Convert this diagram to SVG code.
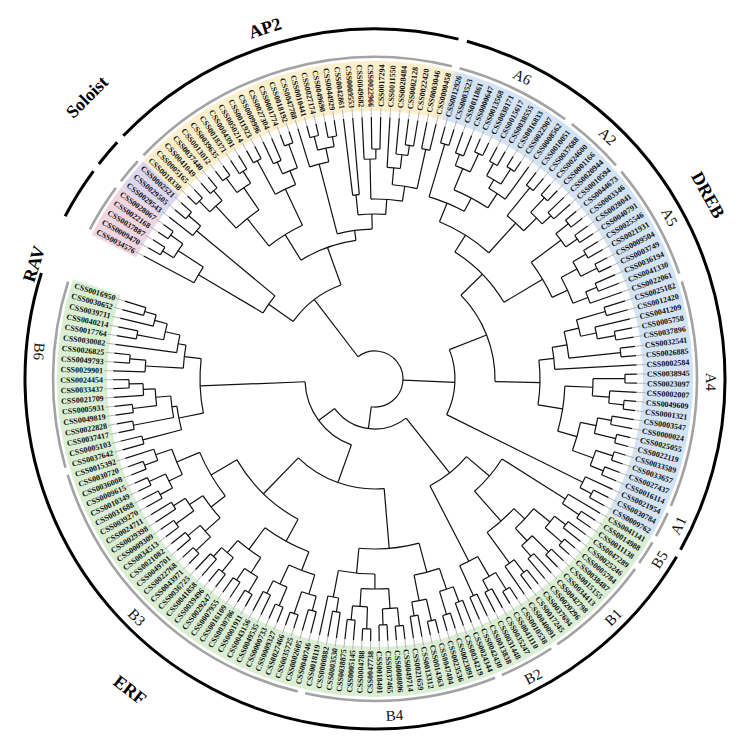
<svg xmlns="http://www.w3.org/2000/svg" width="744" height="750" viewBox="0 0 744 750">
<style>
.tr{fill:none;stroke:#111;stroke-width:1.2}
.lv line{stroke:#a8a8a8;stroke-width:0.8}
.lv text{font-family:"Liberation Serif","Times New Roman",serif;font-weight:bold;font-size:8px;fill:#111}
.lv .f{text-anchor:end}
.bd{fill:none;stroke-width:50}
.sg{fill:none;stroke:#a3a3a3;stroke-width:2.6}
.fm{fill:none;stroke:#000;stroke-width:3}
.sl{font-family:"Liberation Serif","Times New Roman",serif;font-size:15px;text-anchor:middle;fill:#111}
.fl{font-family:"Liberation Serif","Times New Roman",serif;font-size:18px;font-weight:bold;text-anchor:middle;fill:#000}
</style>
<rect width="744" height="750" fill="#fff"/>
<g transform="translate(375,379)">
<g id="bands">
<circle class="bd" pathLength="360" r="293" stroke="#f0d6e1" stroke-dasharray="10.18 400" transform="rotate(207)"/>
<circle class="bd" pathLength="360" r="293" stroke="#dcd7ee" stroke-dasharray="6.12 400" transform="rotate(217.18)"/>
<circle class="bd" pathLength="360" r="293" stroke="#fbefcc" stroke-dasharray="61.2 400" transform="rotate(223.3)"/>
<circle class="bd" pathLength="360" r="293" stroke="#d3e3f4" stroke-dasharray="105.36 400" transform="rotate(284.5)"/>
<circle class="bd" pathLength="360" r="293" stroke="#daeed4" stroke-dasharray="168.41 400" transform="rotate(389.86)"/>
</g>
<g id="tree" class="tr">
<circle pathLength="360" r="248" stroke-dasharray="2.04 400" transform="rotate(210.04)"/>
<circle pathLength="360" r="250" stroke-dasharray="2.04 400" transform="rotate(214.12)"/>
<circle pathLength="360" r="235" stroke-dasharray="4.08 400" transform="rotate(211.06)"/>
<circle pathLength="360" r="205" stroke-dasharray="5.1 400" transform="rotate(208)"/>
<circle pathLength="360" r="248" stroke-dasharray="2.04 400" transform="rotate(220.24)"/>
<circle pathLength="360" r="232" stroke-dasharray="3.06 400" transform="rotate(218.2)"/>
<circle pathLength="360" r="130" stroke-dasharray="9.18 400" transform="rotate(210.55)"/>
<circle pathLength="360" r="250" stroke-dasharray="2.04 400" transform="rotate(224.32)"/>
<circle pathLength="360" r="248" stroke-dasharray="2.04 400" transform="rotate(228.4)"/>
<circle pathLength="360" r="235" stroke-dasharray="4.08 400" transform="rotate(225.34)"/>
<circle pathLength="360" r="250" stroke-dasharray="2.04 400" transform="rotate(232.48)"/>
<circle pathLength="360" r="246" stroke-dasharray="2.04 400" transform="rotate(236.56)"/>
<circle pathLength="360" r="232" stroke-dasharray="4.08 400" transform="rotate(233.5)"/>
<circle pathLength="360" r="205" stroke-dasharray="8.16 400" transform="rotate(227.38)"/>
<circle pathLength="360" r="248" stroke-dasharray="2.04 400" transform="rotate(240.64)"/>
<circle pathLength="360" r="238" stroke-dasharray="2.04 400" transform="rotate(244.72)"/>
<circle pathLength="360" r="250" stroke-dasharray="2.04 400" transform="rotate(248.8)"/>
<circle pathLength="360" r="225" stroke-dasharray="4.08 400" transform="rotate(245.74)"/>
<circle pathLength="360" r="210" stroke-dasharray="6.12 400" transform="rotate(241.66)"/>
<circle pathLength="360" r="170" stroke-dasharray="13.26 400" transform="rotate(231.46)"/>
<circle pathLength="360" r="250" stroke-dasharray="2.04 400" transform="rotate(254.92)"/>
<circle pathLength="360" r="246" stroke-dasharray="2.04 400" transform="rotate(259)"/>
<circle pathLength="360" r="236" stroke-dasharray="4.08 400" transform="rotate(255.94)"/>
<circle pathLength="360" r="222" stroke-dasharray="5.1 400" transform="rotate(252.88)"/>
<circle pathLength="360" r="185" stroke-dasharray="2.04 400" transform="rotate(263.08)"/>
<circle pathLength="360" r="230" stroke-dasharray="2.04 400" transform="rotate(269.2)"/>
<circle pathLength="360" r="220" stroke-dasharray="3.06 400" transform="rotate(267.16)"/>
<circle pathLength="360" r="236" stroke-dasharray="2.04 400" transform="rotate(277.36)"/>
<circle pathLength="360" r="226" stroke-dasharray="3.06 400" transform="rotate(275.32)"/>
<circle pathLength="360" r="212" stroke-dasharray="3.57 400" transform="rotate(273.28)"/>
<circle pathLength="360" r="235" stroke-dasharray="2.04 400" transform="rotate(281.44)"/>
<circle pathLength="360" r="195" stroke-dasharray="7.39 400" transform="rotate(275.07)"/>
<circle pathLength="360" r="180" stroke-dasharray="10.08 400" transform="rotate(268.69)"/>
<circle pathLength="360" r="165" stroke-dasharray="9.63 400" transform="rotate(264.1)"/>
<circle pathLength="360" r="150" stroke-dasharray="13.49 400" transform="rotate(255.43)"/>
<circle pathLength="360" r="140" stroke-dasharray="24.09 400" transform="rotate(238.09)"/>
<circle pathLength="360" r="100" stroke-dasharray="35 400" transform="rotate(215.14)"/>
<circle pathLength="360" r="245" stroke-dasharray="2.04 400" transform="rotate(285.52)"/>
<circle pathLength="360" r="240" stroke-dasharray="2.04 400" transform="rotate(289.6)"/>
<circle pathLength="360" r="248" stroke-dasharray="2.04 400" transform="rotate(293.68)"/>
<circle pathLength="360" r="228" stroke-dasharray="4.08 400" transform="rotate(290.62)"/>
<circle pathLength="360" r="246" stroke-dasharray="2.04 400" transform="rotate(297.76)"/>
<circle pathLength="360" r="250" stroke-dasharray="2.04 400" transform="rotate(301.84)"/>
<circle pathLength="360" r="232" stroke-dasharray="4.08 400" transform="rotate(298.78)"/>
<circle pathLength="360" r="222" stroke-dasharray="5.1 400" transform="rotate(300.82)"/>
<circle pathLength="360" r="205" stroke-dasharray="10.71 400" transform="rotate(292.66)"/>
<circle pathLength="360" r="190" stroke-dasharray="11.48 400" transform="rotate(286.54)"/>
<circle pathLength="360" r="246" stroke-dasharray="2.04 400" transform="rotate(307.96)"/>
<circle pathLength="360" r="248" stroke-dasharray="2.04 400" transform="rotate(312.04)"/>
<circle pathLength="360" r="240" stroke-dasharray="2.04 400" transform="rotate(316.12)"/>
<circle pathLength="360" r="228" stroke-dasharray="4.08 400" transform="rotate(313.06)"/>
<circle pathLength="360" r="210" stroke-dasharray="6.12 400" transform="rotate(308.98)"/>
<circle pathLength="360" r="170" stroke-dasharray="19.76 400" transform="rotate(292.28)"/>
<circle pathLength="360" r="248" stroke-dasharray="2.04 400" transform="rotate(320.2)"/>
<circle pathLength="360" r="246" stroke-dasharray="2.04 400" transform="rotate(324.28)"/>
<circle pathLength="360" r="232" stroke-dasharray="4.08 400" transform="rotate(321.22)"/>
<circle pathLength="360" r="245" stroke-dasharray="2.04 400" transform="rotate(328.36)"/>
<circle pathLength="360" r="248" stroke-dasharray="2.04 400" transform="rotate(332.44)"/>
<circle pathLength="360" r="230" stroke-dasharray="4.08 400" transform="rotate(329.38)"/>
<circle pathLength="360" r="240" stroke-dasharray="2.04 400" transform="rotate(336.52)"/>
<circle pathLength="360" r="228" stroke-dasharray="3.06 400" transform="rotate(337.54)"/>
<circle pathLength="360" r="212" stroke-dasharray="7.65 400" transform="rotate(331.42)"/>
<circle pathLength="360" r="195" stroke-dasharray="11.99 400" transform="rotate(323.26)"/>
<circle pathLength="360" r="150" stroke-dasharray="27.09 400" transform="rotate(302.16)"/>
<circle pathLength="360" r="240" stroke-dasharray="2.04 400" transform="rotate(342.64)"/>
<circle pathLength="360" r="244" stroke-dasharray="2.04 400" transform="rotate(348.76)"/>
<circle pathLength="360" r="226" stroke-dasharray="3.06 400" transform="rotate(346.72)"/>
<circle pathLength="360" r="210" stroke-dasharray="4.59 400" transform="rotate(343.66)"/>
<circle pathLength="360" r="247" stroke-dasharray="2.04 400" transform="rotate(352.84)"/>
<circle pathLength="360" r="195" stroke-dasharray="7.9 400" transform="rotate(345.96)"/>
<circle pathLength="360" r="180" stroke-dasharray="7.01 400" transform="rotate(349.91)"/>
<circle pathLength="360" r="250" stroke-dasharray="2 400" transform="rotate(358.92)"/>
<circle pathLength="360" r="250" stroke-dasharray="2 400" transform="rotate(364.92)"/>
<circle pathLength="360" r="235" stroke-dasharray="3 400" transform="rotate(362.92)"/>
<circle pathLength="360" r="218" stroke-dasharray="4.5 400" transform="rotate(359.92)"/>
<circle pathLength="360" r="240" stroke-dasharray="2 400" transform="rotate(368.92)"/>
<circle pathLength="360" r="248" stroke-dasharray="2 400" transform="rotate(372.92)"/>
<circle pathLength="360" r="226" stroke-dasharray="4 400" transform="rotate(369.92)"/>
<circle pathLength="360" r="250" stroke-dasharray="2 400" transform="rotate(376.92)"/>
<circle pathLength="360" r="246" stroke-dasharray="2 400" transform="rotate(380.92)"/>
<circle pathLength="360" r="232" stroke-dasharray="4 400" transform="rotate(377.92)"/>
<circle pathLength="360" r="210" stroke-dasharray="8 400" transform="rotate(371.92)"/>
<circle pathLength="360" r="190" stroke-dasharray="13.75 400" transform="rotate(362.17)"/>
<circle pathLength="360" r="165" stroke-dasharray="15.63 400" transform="rotate(353.42)"/>
<circle pathLength="360" r="245" stroke-dasharray="2 400" transform="rotate(386.92)"/>
<circle pathLength="360" r="232" stroke-dasharray="3 400" transform="rotate(384.92)"/>
<circle pathLength="360" r="120" stroke-dasharray="45.53 400" transform="rotate(315.71)"/>
<circle pathLength="360" r="80" stroke-dasharray="47.94 400" transform="rotate(338.48)"/>
<circle pathLength="360" r="245" stroke-dasharray="1.88 400" transform="rotate(392.68)"/>
<circle pathLength="360" r="225" stroke-dasharray="2.82 400" transform="rotate(390.8)"/>
<circle pathLength="360" r="240" stroke-dasharray="1.88 400" transform="rotate(396.44)"/>
<circle pathLength="360" r="248" stroke-dasharray="1.88 400" transform="rotate(400.2)"/>
<circle pathLength="360" r="226" stroke-dasharray="3.76 400" transform="rotate(397.38)"/>
<circle pathLength="360" r="245" stroke-dasharray="1.88 400" transform="rotate(403.96)"/>
<circle pathLength="360" r="236" stroke-dasharray="1.88 400" transform="rotate(407.72)"/>
<circle pathLength="360" r="222" stroke-dasharray="3.76 400" transform="rotate(404.9)"/>
<circle pathLength="360" r="205" stroke-dasharray="7.52 400" transform="rotate(399.26)"/>
<circle pathLength="360" r="244" stroke-dasharray="1.88 400" transform="rotate(411.48)"/>
<circle pathLength="360" r="228" stroke-dasharray="2.82 400" transform="rotate(412.42)"/>
<circle pathLength="360" r="190" stroke-dasharray="10.81 400" transform="rotate(403.02)"/>
<circle pathLength="360" r="150" stroke-dasharray="16.22 400" transform="rotate(392.21)"/>
<circle pathLength="360" r="248" stroke-dasharray="1.88 400" transform="rotate(417.12)"/>
<circle pathLength="360" r="240" stroke-dasharray="1.88 400" transform="rotate(420.88)"/>
<circle pathLength="360" r="228" stroke-dasharray="3.76 400" transform="rotate(418.06)"/>
<circle pathLength="360" r="238" stroke-dasharray="1.88 400" transform="rotate(424.64)"/>
<circle pathLength="360" r="205" stroke-dasharray="5.64 400" transform="rotate(419.94)"/>
<circle pathLength="360" r="120" stroke-dasharray="22.44 400" transform="rotate(400.32)"/>
<circle pathLength="360" r="238" stroke-dasharray="1.88 400" transform="rotate(428.4)"/>
<circle pathLength="360" r="246" stroke-dasharray="1.88 400" transform="rotate(432.16)"/>
<circle pathLength="360" r="222" stroke-dasharray="3.76 400" transform="rotate(429.34)"/>
<circle pathLength="360" r="248" stroke-dasharray="1.88 400" transform="rotate(435.92)"/>
<circle pathLength="360" r="240" stroke-dasharray="1.88 400" transform="rotate(439.68)"/>
<circle pathLength="360" r="226" stroke-dasharray="3.76 400" transform="rotate(436.86)"/>
<circle pathLength="360" r="200" stroke-dasharray="7.52 400" transform="rotate(431.22)"/>
<circle pathLength="360" r="248" stroke-dasharray="1.88 400" transform="rotate(443.44)"/>
<circle pathLength="360" r="246" stroke-dasharray="1.88 400" transform="rotate(447.2)"/>
<circle pathLength="360" r="230" stroke-dasharray="3.76 400" transform="rotate(444.38)"/>
<circle pathLength="360" r="250" stroke-dasharray="1.88 400" transform="rotate(450.96)"/>
<circle pathLength="360" r="242" stroke-dasharray="1.88 400" transform="rotate(454.72)"/>
<circle pathLength="360" r="228" stroke-dasharray="3.76 400" transform="rotate(451.9)"/>
<circle pathLength="360" r="210" stroke-dasharray="7.52 400" transform="rotate(446.26)"/>
<circle pathLength="360" r="236" stroke-dasharray="1.88 400" transform="rotate(458.48)"/>
<circle pathLength="360" r="222" stroke-dasharray="2.82 400" transform="rotate(459.42)"/>
<circle pathLength="360" r="195" stroke-dasharray="10.81 400" transform="rotate(450.02)"/>
<circle pathLength="360" r="170" stroke-dasharray="20.45 400" transform="rotate(434.98)"/>
<circle pathLength="360" r="240" stroke-dasharray="1.94 400" transform="rotate(464.18)"/>
<circle pathLength="360" r="248" stroke-dasharray="1.94 400" transform="rotate(468.06)"/>
<circle pathLength="360" r="225" stroke-dasharray="3.88 400" transform="rotate(465.15)"/>
<circle pathLength="360" r="246" stroke-dasharray="1.94 400" transform="rotate(471.94)"/>
<circle pathLength="360" r="240" stroke-dasharray="1.94 400" transform="rotate(475.82)"/>
<circle pathLength="360" r="226" stroke-dasharray="3.88 400" transform="rotate(472.91)"/>
<circle pathLength="360" r="205" stroke-dasharray="7.76 400" transform="rotate(467.09)"/>
<circle pathLength="360" r="248" stroke-dasharray="1.94 400" transform="rotate(479.7)"/>
<circle pathLength="360" r="244" stroke-dasharray="1.94 400" transform="rotate(483.58)"/>
<circle pathLength="360" r="230" stroke-dasharray="3.88 400" transform="rotate(480.67)"/>
<circle pathLength="360" r="246" stroke-dasharray="1.94 400" transform="rotate(487.46)"/>
<circle pathLength="360" r="240" stroke-dasharray="1.94 400" transform="rotate(491.34)"/>
<circle pathLength="360" r="228" stroke-dasharray="3.88 400" transform="rotate(488.43)"/>
<circle pathLength="360" r="212" stroke-dasharray="7.76 400" transform="rotate(482.61)"/>
<circle pathLength="360" r="185" stroke-dasharray="15.52 400" transform="rotate(470.97)"/>
<circle pathLength="360" r="248" stroke-dasharray="1.94 400" transform="rotate(495.22)"/>
<circle pathLength="360" r="244" stroke-dasharray="1.94 400" transform="rotate(499.1)"/>
<circle pathLength="360" r="228" stroke-dasharray="3.88 400" transform="rotate(496.19)"/>
<circle pathLength="360" r="246" stroke-dasharray="1.94 400" transform="rotate(502.98)"/>
<circle pathLength="360" r="238" stroke-dasharray="1.94 400" transform="rotate(506.86)"/>
<circle pathLength="360" r="224" stroke-dasharray="3.88 400" transform="rotate(503.95)"/>
<circle pathLength="360" r="208" stroke-dasharray="7.76 400" transform="rotate(498.13)"/>
<circle pathLength="360" r="244" stroke-dasharray="1.94 400" transform="rotate(510.74)"/>
<circle pathLength="360" r="248" stroke-dasharray="1.94 400" transform="rotate(514.62)"/>
<circle pathLength="360" r="230" stroke-dasharray="3.88 400" transform="rotate(511.71)"/>
<circle pathLength="360" r="246" stroke-dasharray="1.94 400" transform="rotate(518.5)"/>
<circle pathLength="360" r="232" stroke-dasharray="2.91 400" transform="rotate(519.47)"/>
<circle pathLength="360" r="215" stroke-dasharray="7.28 400" transform="rotate(513.65)"/>
<circle pathLength="360" r="190" stroke-dasharray="15.28 400" transform="rotate(502.01)"/>
<circle pathLength="360" r="160" stroke-dasharray="30.92 400" transform="rotate(478.73)"/>
<circle pathLength="360" r="110" stroke-dasharray="48.98 400" transform="rotate(445.21)"/>
<circle pathLength="360" r="240" stroke-dasharray="1.94 400" transform="rotate(555.36)"/>
<circle pathLength="360" r="228" stroke-dasharray="2.91 400" transform="rotate(553.42)"/>
<circle pathLength="360" r="242" stroke-dasharray="1.94 400" transform="rotate(549.54)"/>
<circle pathLength="360" r="215" stroke-dasharray="4.37 400" transform="rotate(550.51)"/>
<circle pathLength="360" r="200" stroke-dasharray="5.1 400" transform="rotate(547.6)"/>
<circle pathLength="360" r="246" stroke-dasharray="1.94 400" transform="rotate(543.72)"/>
<circle pathLength="360" r="230" stroke-dasharray="2.91 400" transform="rotate(541.78)"/>
<circle pathLength="360" r="192" stroke-dasharray="6.91 400" transform="rotate(543.24)"/>
<circle pathLength="360" r="246" stroke-dasharray="1.94 400" transform="rotate(537.9)"/>
<circle pathLength="360" r="232" stroke-dasharray="2.91 400" transform="rotate(535.96)"/>
<circle pathLength="360" r="244" stroke-dasharray="1.94 400" transform="rotate(532.08)"/>
<circle pathLength="360" r="220" stroke-dasharray="4.37 400" transform="rotate(533.05)"/>
<circle pathLength="360" r="246" stroke-dasharray="1.94 400" transform="rotate(528.2)"/>
<circle pathLength="360" r="205" stroke-dasharray="6.07 400" transform="rotate(529.17)"/>
<circle pathLength="360" r="240" stroke-dasharray="1.94 400" transform="rotate(524.32)"/>
<circle pathLength="360" r="200" stroke-dasharray="6.92 400" transform="rotate(525.29)"/>
<circle pathLength="360" r="175" stroke-dasharray="17.95 400" transform="rotate(528.75)"/>
<circle pathLength="360" r="70" stroke-dasharray="68.03 400" transform="rotate(469.7)"/>
<circle pathLength="360" r="50" stroke-dasharray="92.18 400" transform="rotate(411.54)"/>
<circle pathLength="360" r="28" stroke-dasharray="224.99 400" transform="rotate(232.64)"/>
<line x1="235" x2="248" transform="rotate(211.06)"/>
<line x1="235" x2="250" transform="rotate(215.14)"/>
<line x1="205" x2="235" transform="rotate(213.1)"/>
<line x1="130" x2="205" transform="rotate(210.55)"/>
<line x1="232" x2="248" transform="rotate(221.26)"/>
<line x1="130" x2="232" transform="rotate(219.73)"/>
<line x1="100" x2="130" transform="rotate(215.14)"/>
<line x1="235" x2="250" transform="rotate(225.34)"/>
<line x1="235" x2="248" transform="rotate(229.42)"/>
<line x1="205" x2="235" transform="rotate(227.38)"/>
<line x1="232" x2="250" transform="rotate(233.5)"/>
<line x1="232" x2="246" transform="rotate(237.58)"/>
<line x1="205" x2="232" transform="rotate(235.54)"/>
<line x1="170" x2="205" transform="rotate(231.46)"/>
<line x1="210" x2="248" transform="rotate(241.66)"/>
<line x1="225" x2="238" transform="rotate(245.74)"/>
<line x1="225" x2="250" transform="rotate(249.82)"/>
<line x1="210" x2="225" transform="rotate(247.78)"/>
<line x1="170" x2="210" transform="rotate(244.72)"/>
<line x1="140" x2="170" transform="rotate(238.09)"/>
<line x1="236" x2="250" transform="rotate(255.94)"/>
<line x1="236" x2="246" transform="rotate(260.02)"/>
<line x1="222" x2="236" transform="rotate(257.98)"/>
<line x1="150" x2="222" transform="rotate(255.43)"/>
<line x1="165" x2="185" transform="rotate(264.1)"/>
<line x1="220" x2="230" transform="rotate(270.22)"/>
<line x1="180" x2="220" transform="rotate(268.69)"/>
<line x1="226" x2="236" transform="rotate(278.38)"/>
<line x1="212" x2="226" transform="rotate(276.85)"/>
<line x1="195" x2="212" transform="rotate(275.07)"/>
<line x1="195" x2="235" transform="rotate(282.46)"/>
<line x1="180" x2="195" transform="rotate(278.77)"/>
<line x1="165" x2="180" transform="rotate(273.73)"/>
<line x1="150" x2="165" transform="rotate(268.92)"/>
<line x1="140" x2="150" transform="rotate(262.18)"/>
<line x1="100" x2="140" transform="rotate(250.14)"/>
<line x1="28" x2="100" transform="rotate(232.64)"/>
<line x1="190" x2="245" transform="rotate(286.54)"/>
<line x1="228" x2="240" transform="rotate(290.62)"/>
<line x1="228" x2="248" transform="rotate(294.7)"/>
<line x1="205" x2="228" transform="rotate(292.66)"/>
<line x1="232" x2="246" transform="rotate(298.78)"/>
<line x1="232" x2="250" transform="rotate(302.86)"/>
<line x1="222" x2="232" transform="rotate(300.82)"/>
<line x1="205" x2="222" transform="rotate(303.37)"/>
<line x1="190" x2="205" transform="rotate(298.02)"/>
<line x1="170" x2="190" transform="rotate(292.28)"/>
<line x1="210" x2="246" transform="rotate(308.98)"/>
<line x1="228" x2="248" transform="rotate(313.06)"/>
<line x1="228" x2="240" transform="rotate(317.14)"/>
<line x1="210" x2="228" transform="rotate(315.1)"/>
<line x1="170" x2="210" transform="rotate(312.04)"/>
<line x1="150" x2="170" transform="rotate(302.16)"/>
<line x1="232" x2="248" transform="rotate(321.22)"/>
<line x1="232" x2="246" transform="rotate(325.3)"/>
<line x1="195" x2="232" transform="rotate(323.26)"/>
<line x1="230" x2="245" transform="rotate(329.38)"/>
<line x1="230" x2="248" transform="rotate(333.46)"/>
<line x1="212" x2="230" transform="rotate(331.42)"/>
<line x1="228" x2="240" transform="rotate(337.54)"/>
<line x1="212" x2="228" transform="rotate(339.07)"/>
<line x1="195" x2="212" transform="rotate(335.25)"/>
<line x1="150" x2="195" transform="rotate(329.25)"/>
<line x1="120" x2="150" transform="rotate(315.71)"/>
<line x1="210" x2="240" transform="rotate(343.66)"/>
<line x1="226" x2="244" transform="rotate(349.78)"/>
<line x1="210" x2="226" transform="rotate(348.25)"/>
<line x1="195" x2="210" transform="rotate(345.96)"/>
<line x1="195" x2="247" transform="rotate(353.86)"/>
<line x1="180" x2="195" transform="rotate(349.91)"/>
<line x1="165" x2="180" transform="rotate(353.42)"/>
<line x1="218" x2="250" transform="rotate(359.92)"/>
<line x1="235" x2="250" transform="rotate(365.92)"/>
<line x1="218" x2="235" transform="rotate(364.42)"/>
<line x1="190" x2="218" transform="rotate(362.17)"/>
<line x1="226" x2="240" transform="rotate(369.92)"/>
<line x1="226" x2="248" transform="rotate(373.92)"/>
<line x1="210" x2="226" transform="rotate(371.92)"/>
<line x1="232" x2="250" transform="rotate(377.92)"/>
<line x1="232" x2="246" transform="rotate(381.92)"/>
<line x1="210" x2="232" transform="rotate(379.92)"/>
<line x1="190" x2="210" transform="rotate(375.92)"/>
<line x1="165" x2="190" transform="rotate(369.05)"/>
<line x1="120" x2="165" transform="rotate(361.24)"/>
<line x1="232" x2="245" transform="rotate(387.92)"/>
<line x1="80" x2="232" transform="rotate(386.42)"/>
<line x1="80" x2="120" transform="rotate(338.48)"/>
<line x1="28" x2="80" transform="rotate(362.45)"/>
<line x1="225" x2="245" transform="rotate(393.62)"/>
<line x1="150" x2="225" transform="rotate(392.21)"/>
<line x1="226" x2="240" transform="rotate(397.38)"/>
<line x1="226" x2="248" transform="rotate(401.14)"/>
<line x1="205" x2="226" transform="rotate(399.26)"/>
<line x1="222" x2="245" transform="rotate(404.9)"/>
<line x1="222" x2="236" transform="rotate(408.66)"/>
<line x1="205" x2="222" transform="rotate(406.78)"/>
<line x1="190" x2="205" transform="rotate(403.02)"/>
<line x1="228" x2="244" transform="rotate(412.42)"/>
<line x1="190" x2="228" transform="rotate(413.83)"/>
<line x1="150" x2="190" transform="rotate(408.43)"/>
<line x1="120" x2="150" transform="rotate(400.32)"/>
<line x1="228" x2="248" transform="rotate(418.06)"/>
<line x1="228" x2="240" transform="rotate(421.82)"/>
<line x1="205" x2="228" transform="rotate(419.94)"/>
<line x1="205" x2="238" transform="rotate(425.58)"/>
<line x1="120" x2="205" transform="rotate(422.76)"/>
<line x1="50" x2="120" transform="rotate(411.54)"/>
<line x1="222" x2="238" transform="rotate(429.34)"/>
<line x1="222" x2="246" transform="rotate(433.1)"/>
<line x1="200" x2="222" transform="rotate(431.22)"/>
<line x1="226" x2="248" transform="rotate(436.86)"/>
<line x1="226" x2="240" transform="rotate(440.62)"/>
<line x1="200" x2="226" transform="rotate(438.74)"/>
<line x1="170" x2="200" transform="rotate(434.98)"/>
<line x1="230" x2="248" transform="rotate(444.38)"/>
<line x1="230" x2="246" transform="rotate(448.14)"/>
<line x1="210" x2="230" transform="rotate(446.26)"/>
<line x1="228" x2="250" transform="rotate(451.9)"/>
<line x1="228" x2="242" transform="rotate(455.66)"/>
<line x1="210" x2="228" transform="rotate(453.78)"/>
<line x1="195" x2="210" transform="rotate(450.02)"/>
<line x1="222" x2="236" transform="rotate(459.42)"/>
<line x1="195" x2="222" transform="rotate(460.83)"/>
<line x1="170" x2="195" transform="rotate(455.43)"/>
<line x1="110" x2="170" transform="rotate(445.21)"/>
<line x1="225" x2="240" transform="rotate(465.15)"/>
<line x1="225" x2="248" transform="rotate(469.03)"/>
<line x1="205" x2="225" transform="rotate(467.09)"/>
<line x1="226" x2="246" transform="rotate(472.91)"/>
<line x1="226" x2="240" transform="rotate(476.79)"/>
<line x1="205" x2="226" transform="rotate(474.85)"/>
<line x1="185" x2="205" transform="rotate(470.97)"/>
<line x1="230" x2="248" transform="rotate(480.67)"/>
<line x1="230" x2="244" transform="rotate(484.55)"/>
<line x1="212" x2="230" transform="rotate(482.61)"/>
<line x1="228" x2="246" transform="rotate(488.43)"/>
<line x1="228" x2="240" transform="rotate(492.31)"/>
<line x1="212" x2="228" transform="rotate(490.37)"/>
<line x1="185" x2="212" transform="rotate(486.49)"/>
<line x1="160" x2="185" transform="rotate(478.73)"/>
<line x1="228" x2="248" transform="rotate(496.19)"/>
<line x1="228" x2="244" transform="rotate(500.07)"/>
<line x1="208" x2="228" transform="rotate(498.13)"/>
<line x1="224" x2="246" transform="rotate(503.95)"/>
<line x1="224" x2="238" transform="rotate(507.83)"/>
<line x1="208" x2="224" transform="rotate(505.89)"/>
<line x1="190" x2="208" transform="rotate(502.01)"/>
<line x1="230" x2="244" transform="rotate(511.71)"/>
<line x1="230" x2="248" transform="rotate(515.59)"/>
<line x1="215" x2="230" transform="rotate(513.65)"/>
<line x1="232" x2="246" transform="rotate(519.47)"/>
<line x1="215" x2="232" transform="rotate(520.93)"/>
<line x1="190" x2="215" transform="rotate(517.29)"/>
<line x1="160" x2="190" transform="rotate(509.65)"/>
<line x1="110" x2="160" transform="rotate(494.19)"/>
<line x1="70" x2="110" transform="rotate(469.7)"/>
<line x1="228" x2="240" transform="rotate(556.33)"/>
<line x1="215" x2="228" transform="rotate(554.88)"/>
<line x1="215" x2="242" transform="rotate(550.51)"/>
<line x1="200" x2="215" transform="rotate(552.7)"/>
<line x1="192" x2="200" transform="rotate(550.15)"/>
<line x1="230" x2="246" transform="rotate(544.69)"/>
<line x1="192" x2="230" transform="rotate(543.24)"/>
<line x1="175" x2="192" transform="rotate(546.7)"/>
<line x1="232" x2="246" transform="rotate(538.87)"/>
<line x1="220" x2="232" transform="rotate(537.42)"/>
<line x1="220" x2="244" transform="rotate(533.05)"/>
<line x1="205" x2="220" transform="rotate(535.24)"/>
<line x1="205" x2="246" transform="rotate(529.17)"/>
<line x1="200" x2="205" transform="rotate(532.21)"/>
<line x1="200" x2="240" transform="rotate(525.29)"/>
<line x1="175" x2="200" transform="rotate(528.75)"/>
<line x1="70" x2="175" transform="rotate(537.73)"/>
<line x1="50" x2="70" transform="rotate(503.72)"/>
<line x1="28" x2="50" transform="rotate(457.63)"/>
<line x1="205" x2="262" transform="rotate(208)"/>
<line x1="248" x2="262" transform="rotate(210.04)"/>
<line x1="248" x2="262" transform="rotate(212.08)"/>
<line x1="250" x2="262" transform="rotate(214.12)"/>
<line x1="250" x2="262" transform="rotate(216.16)"/>
<line x1="232" x2="262" transform="rotate(218.2)"/>
<line x1="248" x2="262" transform="rotate(220.24)"/>
<line x1="248" x2="262" transform="rotate(222.28)"/>
<line x1="250" x2="262" transform="rotate(224.32)"/>
<line x1="250" x2="262" transform="rotate(226.36)"/>
<line x1="248" x2="262" transform="rotate(228.4)"/>
<line x1="248" x2="262" transform="rotate(230.44)"/>
<line x1="250" x2="262" transform="rotate(232.48)"/>
<line x1="250" x2="262" transform="rotate(234.52)"/>
<line x1="246" x2="262" transform="rotate(236.56)"/>
<line x1="246" x2="262" transform="rotate(238.6)"/>
<line x1="248" x2="262" transform="rotate(240.64)"/>
<line x1="248" x2="262" transform="rotate(242.68)"/>
<line x1="238" x2="262" transform="rotate(244.72)"/>
<line x1="238" x2="262" transform="rotate(246.76)"/>
<line x1="250" x2="262" transform="rotate(248.8)"/>
<line x1="250" x2="262" transform="rotate(250.84)"/>
<line x1="222" x2="262" transform="rotate(252.88)"/>
<line x1="250" x2="262" transform="rotate(254.92)"/>
<line x1="250" x2="262" transform="rotate(256.96)"/>
<line x1="246" x2="262" transform="rotate(259)"/>
<line x1="246" x2="262" transform="rotate(261.04)"/>
<line x1="185" x2="262" transform="rotate(263.08)"/>
<line x1="185" x2="262" transform="rotate(265.12)"/>
<line x1="220" x2="262" transform="rotate(267.16)"/>
<line x1="230" x2="262" transform="rotate(269.2)"/>
<line x1="230" x2="262" transform="rotate(271.24)"/>
<line x1="212" x2="262" transform="rotate(273.28)"/>
<line x1="226" x2="262" transform="rotate(275.32)"/>
<line x1="236" x2="262" transform="rotate(277.36)"/>
<line x1="236" x2="262" transform="rotate(279.4)"/>
<line x1="235" x2="262" transform="rotate(281.44)"/>
<line x1="235" x2="262" transform="rotate(283.48)"/>
<line x1="245" x2="262" transform="rotate(285.52)"/>
<line x1="245" x2="262" transform="rotate(287.56)"/>
<line x1="240" x2="262" transform="rotate(289.6)"/>
<line x1="240" x2="262" transform="rotate(291.64)"/>
<line x1="248" x2="262" transform="rotate(293.68)"/>
<line x1="248" x2="262" transform="rotate(295.72)"/>
<line x1="246" x2="262" transform="rotate(297.76)"/>
<line x1="246" x2="262" transform="rotate(299.8)"/>
<line x1="250" x2="262" transform="rotate(301.84)"/>
<line x1="250" x2="262" transform="rotate(303.88)"/>
<line x1="222" x2="262" transform="rotate(305.92)"/>
<line x1="246" x2="262" transform="rotate(307.96)"/>
<line x1="246" x2="262" transform="rotate(310)"/>
<line x1="248" x2="262" transform="rotate(312.04)"/>
<line x1="248" x2="262" transform="rotate(314.08)"/>
<line x1="240" x2="262" transform="rotate(316.12)"/>
<line x1="240" x2="262" transform="rotate(318.16)"/>
<line x1="248" x2="262" transform="rotate(320.2)"/>
<line x1="248" x2="262" transform="rotate(322.24)"/>
<line x1="246" x2="262" transform="rotate(324.28)"/>
<line x1="246" x2="262" transform="rotate(326.32)"/>
<line x1="245" x2="262" transform="rotate(328.36)"/>
<line x1="245" x2="262" transform="rotate(330.4)"/>
<line x1="248" x2="262" transform="rotate(332.44)"/>
<line x1="248" x2="262" transform="rotate(334.48)"/>
<line x1="240" x2="262" transform="rotate(336.52)"/>
<line x1="240" x2="262" transform="rotate(338.56)"/>
<line x1="228" x2="262" transform="rotate(340.6)"/>
<line x1="240" x2="262" transform="rotate(342.64)"/>
<line x1="240" x2="262" transform="rotate(344.68)"/>
<line x1="226" x2="262" transform="rotate(346.72)"/>
<line x1="244" x2="262" transform="rotate(348.76)"/>
<line x1="244" x2="262" transform="rotate(350.8)"/>
<line x1="247" x2="262" transform="rotate(352.84)"/>
<line x1="247" x2="262" transform="rotate(354.88)"/>
<line x1="180" x2="262" transform="rotate(356.92)"/>
<line x1="250" x2="262" transform="rotate(358.92)"/>
<line x1="250" x2="262" transform="rotate(360.92)"/>
<line x1="235" x2="262" transform="rotate(362.92)"/>
<line x1="250" x2="262" transform="rotate(364.92)"/>
<line x1="250" x2="262" transform="rotate(366.92)"/>
<line x1="240" x2="262" transform="rotate(368.92)"/>
<line x1="240" x2="262" transform="rotate(370.92)"/>
<line x1="248" x2="262" transform="rotate(372.92)"/>
<line x1="248" x2="262" transform="rotate(374.92)"/>
<line x1="250" x2="262" transform="rotate(376.92)"/>
<line x1="250" x2="262" transform="rotate(378.92)"/>
<line x1="246" x2="262" transform="rotate(380.92)"/>
<line x1="246" x2="262" transform="rotate(382.92)"/>
<line x1="232" x2="262" transform="rotate(384.92)"/>
<line x1="245" x2="262" transform="rotate(386.92)"/>
<line x1="245" x2="262" transform="rotate(388.92)"/>
<line x1="225" x2="262" transform="rotate(390.8)"/>
<line x1="245" x2="262" transform="rotate(392.68)"/>
<line x1="245" x2="262" transform="rotate(394.56)"/>
<line x1="240" x2="262" transform="rotate(396.44)"/>
<line x1="240" x2="262" transform="rotate(398.32)"/>
<line x1="248" x2="262" transform="rotate(400.2)"/>
<line x1="248" x2="262" transform="rotate(402.08)"/>
<line x1="245" x2="262" transform="rotate(403.96)"/>
<line x1="245" x2="262" transform="rotate(405.84)"/>
<line x1="236" x2="262" transform="rotate(407.72)"/>
<line x1="236" x2="262" transform="rotate(409.6)"/>
<line x1="244" x2="262" transform="rotate(411.48)"/>
<line x1="244" x2="262" transform="rotate(413.36)"/>
<line x1="228" x2="262" transform="rotate(415.24)"/>
<line x1="248" x2="262" transform="rotate(417.12)"/>
<line x1="248" x2="262" transform="rotate(419)"/>
<line x1="240" x2="262" transform="rotate(420.88)"/>
<line x1="240" x2="262" transform="rotate(422.76)"/>
<line x1="238" x2="262" transform="rotate(424.64)"/>
<line x1="238" x2="262" transform="rotate(426.52)"/>
<line x1="238" x2="262" transform="rotate(428.4)"/>
<line x1="238" x2="262" transform="rotate(430.28)"/>
<line x1="246" x2="262" transform="rotate(432.16)"/>
<line x1="246" x2="262" transform="rotate(434.04)"/>
<line x1="248" x2="262" transform="rotate(435.92)"/>
<line x1="248" x2="262" transform="rotate(437.8)"/>
<line x1="240" x2="262" transform="rotate(439.68)"/>
<line x1="240" x2="262" transform="rotate(441.56)"/>
<line x1="248" x2="262" transform="rotate(443.44)"/>
<line x1="248" x2="262" transform="rotate(445.32)"/>
<line x1="246" x2="262" transform="rotate(447.2)"/>
<line x1="246" x2="262" transform="rotate(449.08)"/>
<line x1="250" x2="262" transform="rotate(450.96)"/>
<line x1="250" x2="262" transform="rotate(452.84)"/>
<line x1="242" x2="262" transform="rotate(454.72)"/>
<line x1="242" x2="262" transform="rotate(456.6)"/>
<line x1="236" x2="262" transform="rotate(458.48)"/>
<line x1="236" x2="262" transform="rotate(460.36)"/>
<line x1="222" x2="262" transform="rotate(462.24)"/>
<line x1="240" x2="262" transform="rotate(464.18)"/>
<line x1="240" x2="262" transform="rotate(466.12)"/>
<line x1="248" x2="262" transform="rotate(468.06)"/>
<line x1="248" x2="262" transform="rotate(470)"/>
<line x1="246" x2="262" transform="rotate(471.94)"/>
<line x1="246" x2="262" transform="rotate(473.88)"/>
<line x1="240" x2="262" transform="rotate(475.82)"/>
<line x1="240" x2="262" transform="rotate(477.76)"/>
<line x1="248" x2="262" transform="rotate(479.7)"/>
<line x1="248" x2="262" transform="rotate(481.64)"/>
<line x1="244" x2="262" transform="rotate(483.58)"/>
<line x1="244" x2="262" transform="rotate(485.52)"/>
<line x1="246" x2="262" transform="rotate(487.46)"/>
<line x1="246" x2="262" transform="rotate(489.4)"/>
<line x1="240" x2="262" transform="rotate(491.34)"/>
<line x1="240" x2="262" transform="rotate(493.28)"/>
<line x1="248" x2="262" transform="rotate(495.22)"/>
<line x1="248" x2="262" transform="rotate(497.16)"/>
<line x1="244" x2="262" transform="rotate(499.1)"/>
<line x1="244" x2="262" transform="rotate(501.04)"/>
<line x1="246" x2="262" transform="rotate(502.98)"/>
<line x1="246" x2="262" transform="rotate(504.92)"/>
<line x1="238" x2="262" transform="rotate(506.86)"/>
<line x1="238" x2="262" transform="rotate(508.8)"/>
<line x1="244" x2="262" transform="rotate(510.74)"/>
<line x1="244" x2="262" transform="rotate(512.68)"/>
<line x1="248" x2="262" transform="rotate(514.62)"/>
<line x1="248" x2="262" transform="rotate(516.56)"/>
<line x1="246" x2="262" transform="rotate(518.5)"/>
<line x1="246" x2="262" transform="rotate(520.44)"/>
<line x1="232" x2="262" transform="rotate(522.38)"/>
<line x1="240" x2="262" transform="rotate(524.32)"/>
<line x1="240" x2="262" transform="rotate(526.26)"/>
<line x1="246" x2="262" transform="rotate(528.2)"/>
<line x1="246" x2="262" transform="rotate(530.14)"/>
<line x1="244" x2="262" transform="rotate(532.08)"/>
<line x1="244" x2="262" transform="rotate(534.02)"/>
<line x1="232" x2="262" transform="rotate(535.96)"/>
<line x1="246" x2="262" transform="rotate(537.9)"/>
<line x1="246" x2="262" transform="rotate(539.84)"/>
<line x1="230" x2="262" transform="rotate(541.78)"/>
<line x1="246" x2="262" transform="rotate(543.72)"/>
<line x1="246" x2="262" transform="rotate(545.66)"/>
<line x1="200" x2="262" transform="rotate(547.6)"/>
<line x1="242" x2="262" transform="rotate(549.54)"/>
<line x1="242" x2="262" transform="rotate(551.48)"/>
<line x1="228" x2="262" transform="rotate(553.42)"/>
<line x1="240" x2="262" transform="rotate(555.36)"/>
<line x1="240" x2="262" transform="rotate(557.3)"/>
</g>
<g id="leaves" class="lv">
<g id="CSS0034576" transform="rotate(208)"><line x1="262" x2="271"/><text class="f" transform="rotate(180)" x="-272" y="2.8">CSS0034576</text></g>
<g id="CSS0009470" transform="rotate(210.04)"><line x1="262" x2="271"/><text class="f" transform="rotate(180)" x="-272" y="2.8">CSS0009470</text></g>
<g id="CSS0037887" transform="rotate(212.08)"><line x1="262" x2="271"/><text class="f" transform="rotate(180)" x="-272" y="2.8">CSS0037887</text></g>
<g id="CSS0022168" transform="rotate(214.12)"><line x1="262" x2="271"/><text class="f" transform="rotate(180)" x="-272" y="2.8">CSS0022168</text></g>
<g id="CSS0028067" transform="rotate(216.16)"><line x1="262" x2="271"/><text class="f" transform="rotate(180)" x="-272" y="2.8">CSS0028067</text></g>
<g id="CSS0029543" transform="rotate(218.2)"><line x1="262" x2="271"/><text class="f" transform="rotate(180)" x="-272" y="2.8">CSS0029543</text></g>
<g id="CSS0029505" transform="rotate(220.24)"><line x1="262" x2="271"/><text class="f" transform="rotate(180)" x="-272" y="2.8">CSS0029505</text></g>
<g id="CSS0002521" transform="rotate(222.28)"><line x1="262" x2="271"/><text class="f" transform="rotate(180)" x="-272" y="2.8">CSS0002521</text></g>
<g id="CSS0018338" transform="rotate(224.32)"><line x1="262" x2="271"/><text class="f" transform="rotate(180)" x="-272" y="2.8">CSS0018338</text></g>
<g id="CSS0005165" transform="rotate(226.36)"><line x1="262" x2="271"/><text class="f" transform="rotate(180)" x="-272" y="2.8">CSS0005165</text></g>
<g id="CSS0041049" transform="rotate(228.4)"><line x1="262" x2="271"/><text class="f" transform="rotate(180)" x="-272" y="2.8">CSS0041049</text></g>
<g id="CSS0037440" transform="rotate(230.44)"><line x1="262" x2="271"/><text class="f" transform="rotate(180)" x="-272" y="2.8">CSS0037440</text></g>
<g id="CSS0013012" transform="rotate(232.48)"><line x1="262" x2="271"/><text class="f" transform="rotate(180)" x="-272" y="2.8">CSS0013012</text></g>
<g id="CSS0039635" transform="rotate(234.52)"><line x1="262" x2="271"/><text class="f" transform="rotate(180)" x="-272" y="2.8">CSS0039635</text></g>
<g id="CSS0018371" transform="rotate(236.56)"><line x1="262" x2="271"/><text class="f" transform="rotate(180)" x="-272" y="2.8">CSS0018371</text></g>
<g id="CSS0004391" transform="rotate(238.6)"><line x1="262" x2="271"/><text class="f" transform="rotate(180)" x="-272" y="2.8">CSS0004391</text></g>
<g id="CSS0050214" transform="rotate(240.64)"><line x1="262" x2="271"/><text class="f" transform="rotate(180)" x="-272" y="2.8">CSS0050214</text></g>
<g id="CSS0011923" transform="rotate(242.68)"><line x1="262" x2="271"/><text class="f" transform="rotate(180)" x="-272" y="2.8">CSS0011923</text></g>
<g id="CSS0009996" transform="rotate(244.72)"><line x1="262" x2="271"/><text class="f" transform="rotate(180)" x="-272" y="2.8">CSS0009996</text></g>
<g id="CSS0027304" transform="rotate(246.76)"><line x1="262" x2="271"/><text class="f" transform="rotate(180)" x="-272" y="2.8">CSS0027304</text></g>
<g id="CSS0001774" transform="rotate(248.8)"><line x1="262" x2="271"/><text class="f" transform="rotate(180)" x="-272" y="2.8">CSS0001774</text></g>
<g id="CSS0018192" transform="rotate(250.84)"><line x1="262" x2="271"/><text class="f" transform="rotate(180)" x="-272" y="2.8">CSS0018192</text></g>
<g id="CSS0047788" transform="rotate(252.88)"><line x1="262" x2="271"/><text class="f" transform="rotate(180)" x="-272" y="2.8">CSS0047788</text></g>
<g id="CSS0010441" transform="rotate(254.92)"><line x1="262" x2="271"/><text class="f" transform="rotate(180)" x="-272" y="2.8">CSS0010441</text></g>
<g id="CSS0027174" transform="rotate(256.96)"><line x1="262" x2="271"/><text class="f" transform="rotate(180)" x="-272" y="2.8">CSS0027174</text></g>
<g id="CSS0049690" transform="rotate(259)"><line x1="262" x2="271"/><text class="f" transform="rotate(180)" x="-272" y="2.8">CSS0049690</text></g>
<g id="CSS0044929" transform="rotate(261.04)"><line x1="262" x2="271"/><text class="f" transform="rotate(180)" x="-272" y="2.8">CSS0044929</text></g>
<g id="CSS0042861" transform="rotate(263.08)"><line x1="262" x2="271"/><text class="f" transform="rotate(180)" x="-272" y="2.8">CSS0042861</text></g>
<g id="CSS0009553" transform="rotate(265.12)"><line x1="262" x2="271"/><text class="f" transform="rotate(180)" x="-272" y="2.8">CSS0009553</text></g>
<g id="CSS0049682" transform="rotate(267.16)"><line x1="262" x2="271"/><text class="f" transform="rotate(180)" x="-272" y="2.8">CSS0049682</text></g>
<g id="CSS0022966" transform="rotate(269.2)"><line x1="262" x2="271"/><text class="f" transform="rotate(180)" x="-272" y="2.8">CSS0022966</text></g>
<g id="CSS0017294" transform="rotate(271.24)"><line x1="262" x2="271"/><text x="272" y="2.8">CSS0017294</text></g>
<g id="CSS0011550" transform="rotate(273.28)"><line x1="262" x2="271"/><text x="272" y="2.8">CSS0011550</text></g>
<g id="CSS0028484" transform="rotate(275.32)"><line x1="262" x2="271"/><text x="272" y="2.8">CSS0028484</text></g>
<g id="CSS0002128" transform="rotate(277.36)"><line x1="262" x2="271"/><text x="272" y="2.8">CSS0002128</text></g>
<g id="CSS0022420" transform="rotate(279.4)"><line x1="262" x2="271"/><text x="272" y="2.8">CSS0022420</text></g>
<g id="CSS0003046" transform="rotate(281.44)"><line x1="262" x2="271"/><text x="272" y="2.8">CSS0003046</text></g>
<g id="CSS0000458" transform="rotate(283.48)"><line x1="262" x2="271"/><text x="272" y="2.8">CSS0000458</text></g>
<g id="CSS0012926" transform="rotate(285.52)"><line x1="262" x2="271"/><text x="272" y="2.8">CSS0012926</text></g>
<g id="CSS0003523" transform="rotate(287.56)"><line x1="262" x2="271"/><text x="272" y="2.8">CSS0003523</text></g>
<g id="CSS0011861" transform="rotate(289.6)"><line x1="262" x2="271"/><text x="272" y="2.8">CSS0011861</text></g>
<g id="CSS0000647" transform="rotate(291.64)"><line x1="262" x2="271"/><text x="272" y="2.8">CSS0000647</text></g>
<g id="CSS0013568" transform="rotate(293.68)"><line x1="262" x2="271"/><text x="272" y="2.8">CSS0013568</text></g>
<g id="CSS0038171" transform="rotate(295.72)"><line x1="262" x2="271"/><text x="272" y="2.8">CSS0038171</text></g>
<g id="CSS0015617" transform="rotate(297.76)"><line x1="262" x2="271"/><text x="272" y="2.8">CSS0015617</text></g>
<g id="CSS0038555" transform="rotate(299.8)"><line x1="262" x2="271"/><text x="272" y="2.8">CSS0038555</text></g>
<g id="CSS0016833" transform="rotate(301.84)"><line x1="262" x2="271"/><text x="272" y="2.8">CSS0016833</text></g>
<g id="CSS0022907" transform="rotate(303.88)"><line x1="262" x2="271"/><text x="272" y="2.8">CSS0022907</text></g>
<g id="CSS0008562" transform="rotate(305.92)"><line x1="262" x2="271"/><text x="272" y="2.8">CSS0008562</text></g>
<g id="CSS0010051" transform="rotate(307.96)"><line x1="262" x2="271"/><text x="272" y="2.8">CSS0010051</text></g>
<g id="CSS0037688" transform="rotate(310)"><line x1="262" x2="271"/><text x="272" y="2.8">CSS0037688</text></g>
<g id="CSS0024600" transform="rotate(312.04)"><line x1="262" x2="271"/><text x="272" y="2.8">CSS0024600</text></g>
<g id="CSS0001166" transform="rotate(314.08)"><line x1="262" x2="271"/><text x="272" y="2.8">CSS0001166</text></g>
<g id="CSS0020944" transform="rotate(316.12)"><line x1="262" x2="271"/><text x="272" y="2.8">CSS0020944</text></g>
<g id="CSS0010594" transform="rotate(318.16)"><line x1="262" x2="271"/><text x="272" y="2.8">CSS0010594</text></g>
<g id="CSS0044673" transform="rotate(320.2)"><line x1="262" x2="271"/><text x="272" y="2.8">CSS0044673</text></g>
<g id="CSS0003346" transform="rotate(322.24)"><line x1="262" x2="271"/><text x="272" y="2.8">CSS0003346</text></g>
<g id="CSS0028041" transform="rotate(324.28)"><line x1="262" x2="271"/><text x="272" y="2.8">CSS0028041</text></g>
<g id="CSS0040791" transform="rotate(326.32)"><line x1="262" x2="271"/><text x="272" y="2.8">CSS0040791</text></g>
<g id="CSS0025546" transform="rotate(328.36)"><line x1="262" x2="271"/><text x="272" y="2.8">CSS0025546</text></g>
<g id="CSS0021931" transform="rotate(330.4)"><line x1="262" x2="271"/><text x="272" y="2.8">CSS0021931</text></g>
<g id="CSS0009504" transform="rotate(332.44)"><line x1="262" x2="271"/><text x="272" y="2.8">CSS0009504</text></g>
<g id="CSS0003749" transform="rotate(334.48)"><line x1="262" x2="271"/><text x="272" y="2.8">CSS0003749</text></g>
<g id="CSS0036194" transform="rotate(336.52)"><line x1="262" x2="271"/><text x="272" y="2.8">CSS0036194</text></g>
<g id="CSS0041330" transform="rotate(338.56)"><line x1="262" x2="271"/><text x="272" y="2.8">CSS0041330</text></g>
<g id="CSS0022061" transform="rotate(340.6)"><line x1="262" x2="271"/><text x="272" y="2.8">CSS0022061</text></g>
<g id="CSS0025182" transform="rotate(342.64)"><line x1="262" x2="271"/><text x="272" y="2.8">CSS0025182</text></g>
<g id="CSS0012420" transform="rotate(344.68)"><line x1="262" x2="271"/><text x="272" y="2.8">CSS0012420</text></g>
<g id="CSS0041209" transform="rotate(346.72)"><line x1="262" x2="271"/><text x="272" y="2.8">CSS0041209</text></g>
<g id="CSS0005758" transform="rotate(348.76)"><line x1="262" x2="271"/><text x="272" y="2.8">CSS0005758</text></g>
<g id="CSS0037896" transform="rotate(350.8)"><line x1="262" x2="271"/><text x="272" y="2.8">CSS0037896</text></g>
<g id="CSS0032541" transform="rotate(352.84)"><line x1="262" x2="271"/><text x="272" y="2.8">CSS0032541</text></g>
<g id="CSS0026885" transform="rotate(354.88)"><line x1="262" x2="271"/><text x="272" y="2.8">CSS0026885</text></g>
<g id="CSS0002584" transform="rotate(356.92)"><line x1="262" x2="271"/><text x="272" y="2.8">CSS0002584</text></g>
<g id="CSS0038945" transform="rotate(358.92)"><line x1="262" x2="271"/><text x="272" y="2.8">CSS0038945</text></g>
<g id="CSS0023097" transform="rotate(360.92)"><line x1="262" x2="271"/><text x="272" y="2.8">CSS0023097</text></g>
<g id="CSS0002007" transform="rotate(362.92)"><line x1="262" x2="271"/><text x="272" y="2.8">CSS0002007</text></g>
<g id="CSS0049609" transform="rotate(364.92)"><line x1="262" x2="271"/><text x="272" y="2.8">CSS0049609</text></g>
<g id="CSS0001321" transform="rotate(366.92)"><line x1="262" x2="271"/><text x="272" y="2.8">CSS0001321</text></g>
<g id="CSS0003547" transform="rotate(368.92)"><line x1="262" x2="271"/><text x="272" y="2.8">CSS0003547</text></g>
<g id="CSS0000024" transform="rotate(370.92)"><line x1="262" x2="271"/><text x="272" y="2.8">CSS0000024</text></g>
<g id="CSS0025055" transform="rotate(372.92)"><line x1="262" x2="271"/><text x="272" y="2.8">CSS0025055</text></g>
<g id="CSS0022119" transform="rotate(374.92)"><line x1="262" x2="271"/><text x="272" y="2.8">CSS0022119</text></g>
<g id="CSS0033589" transform="rotate(376.92)"><line x1="262" x2="271"/><text x="272" y="2.8">CSS0033589</text></g>
<g id="CSS0033657" transform="rotate(378.92)"><line x1="262" x2="271"/><text x="272" y="2.8">CSS0033657</text></g>
<g id="CSS0027437" transform="rotate(380.92)"><line x1="262" x2="271"/><text x="272" y="2.8">CSS0027437</text></g>
<g id="CSS0016114" transform="rotate(382.92)"><line x1="262" x2="271"/><text x="272" y="2.8">CSS0016114</text></g>
<g id="CSS0021954" transform="rotate(384.92)"><line x1="262" x2="271"/><text x="272" y="2.8">CSS0021954</text></g>
<g id="CSS0030784" transform="rotate(386.92)"><line x1="262" x2="271"/><text x="272" y="2.8">CSS0030784</text></g>
<g id="CSS0009762" transform="rotate(388.92)"><line x1="262" x2="271"/><text x="272" y="2.8">CSS0009762</text></g>
<g id="CSS0041141" transform="rotate(390.8)"><line x1="262" x2="271"/><text x="272" y="2.8">CSS0041141</text></g>
<g id="CSS0014988" transform="rotate(392.68)"><line x1="262" x2="271"/><text x="272" y="2.8">CSS0014988</text></g>
<g id="CSS0011138" transform="rotate(394.56)"><line x1="262" x2="271"/><text x="272" y="2.8">CSS0011138</text></g>
<g id="CSS0047289" transform="rotate(396.44)"><line x1="262" x2="271"/><text x="272" y="2.8">CSS0047289</text></g>
<g id="CSS0025246" transform="rotate(398.32)"><line x1="262" x2="271"/><text x="272" y="2.8">CSS0025246</text></g>
<g id="CSS0005784" transform="rotate(400.2)"><line x1="262" x2="271"/><text x="272" y="2.8">CSS0005784</text></g>
<g id="CSS0038487" transform="rotate(402.08)"><line x1="262" x2="271"/><text x="272" y="2.8">CSS0038487</text></g>
<g id="CSS0015155" transform="rotate(403.96)"><line x1="262" x2="271"/><text x="272" y="2.8">CSS0015155</text></g>
<g id="CSS0034413" transform="rotate(405.84)"><line x1="262" x2="271"/><text x="272" y="2.8">CSS0034413</text></g>
<g id="CSS0042798" transform="rotate(407.72)"><line x1="262" x2="271"/><text x="272" y="2.8">CSS0042798</text></g>
<g id="CSS0020296" transform="rotate(409.6)"><line x1="262" x2="271"/><text x="272" y="2.8">CSS0020296</text></g>
<g id="CSS0037694" transform="rotate(411.48)"><line x1="262" x2="271"/><text x="272" y="2.8">CSS0037694</text></g>
<g id="CSS0017245" transform="rotate(413.36)"><line x1="262" x2="271"/><text x="272" y="2.8">CSS0017245</text></g>
<g id="CSS0040091" transform="rotate(415.24)"><line x1="262" x2="271"/><text x="272" y="2.8">CSS0040091</text></g>
<g id="CSS0010538" transform="rotate(417.12)"><line x1="262" x2="271"/><text x="272" y="2.8">CSS0010538</text></g>
<g id="CSS0041110" transform="rotate(419)"><line x1="262" x2="271"/><text x="272" y="2.8">CSS0041110</text></g>
<g id="CSS0035247" transform="rotate(420.88)"><line x1="262" x2="271"/><text x="272" y="2.8">CSS0035247</text></g>
<g id="CSS0031448" transform="rotate(422.76)"><line x1="262" x2="271"/><text x="272" y="2.8">CSS0031448</text></g>
<g id="CSS0013838" transform="rotate(424.64)"><line x1="262" x2="271"/><text x="272" y="2.8">CSS0013838</text></g>
<g id="CSS0042430" transform="rotate(426.52)"><line x1="262" x2="271"/><text x="272" y="2.8">CSS0042430</text></g>
<g id="CSS0024344" transform="rotate(428.4)"><line x1="262" x2="271"/><text x="272" y="2.8">CSS0024344</text></g>
<g id="CSS0034219" transform="rotate(430.28)"><line x1="262" x2="271"/><text x="272" y="2.8">CSS0034219</text></g>
<g id="CSS0023891" transform="rotate(432.16)"><line x1="262" x2="271"/><text x="272" y="2.8">CSS0023891</text></g>
<g id="CSS0023536" transform="rotate(434.04)"><line x1="262" x2="271"/><text x="272" y="2.8">CSS0023536</text></g>
<g id="CSS0047404" transform="rotate(435.92)"><line x1="262" x2="271"/><text x="272" y="2.8">CSS0047404</text></g>
<g id="CSS0014363" transform="rotate(437.8)"><line x1="262" x2="271"/><text x="272" y="2.8">CSS0014363</text></g>
<g id="CSS0013312" transform="rotate(439.68)"><line x1="262" x2="271"/><text x="272" y="2.8">CSS0013312</text></g>
<g id="CSS0021659" transform="rotate(441.56)"><line x1="262" x2="271"/><text x="272" y="2.8">CSS0021659</text></g>
<g id="CSS0049714" transform="rotate(443.44)"><line x1="262" x2="271"/><text x="272" y="2.8">CSS0049714</text></g>
<g id="CSS0008096" transform="rotate(445.32)"><line x1="262" x2="271"/><text x="272" y="2.8">CSS0008096</text></g>
<g id="CSS0037465" transform="rotate(447.2)"><line x1="262" x2="271"/><text x="272" y="2.8">CSS0037465</text></g>
<g id="CSS0018401" transform="rotate(449.08)"><line x1="262" x2="271"/><text x="272" y="2.8">CSS0018401</text></g>
<g id="CSS0047738" transform="rotate(450.96)"><line x1="262" x2="271"/><text class="f" transform="rotate(180)" x="-272" y="2.8">CSS0047738</text></g>
<g id="CSS0004788" transform="rotate(452.84)"><line x1="262" x2="271"/><text class="f" transform="rotate(180)" x="-272" y="2.8">CSS0004788</text></g>
<g id="CSS0005145" transform="rotate(454.72)"><line x1="262" x2="271"/><text class="f" transform="rotate(180)" x="-272" y="2.8">CSS0005145</text></g>
<g id="CSS0038875" transform="rotate(456.6)"><line x1="262" x2="271"/><text class="f" transform="rotate(180)" x="-272" y="2.8">CSS0038875</text></g>
<g id="CSS0003530" transform="rotate(458.48)"><line x1="262" x2="271"/><text class="f" transform="rotate(180)" x="-272" y="2.8">CSS0003530</text></g>
<g id="CSS0000882" transform="rotate(460.36)"><line x1="262" x2="271"/><text class="f" transform="rotate(180)" x="-272" y="2.8">CSS0000882</text></g>
<g id="CSS0018119" transform="rotate(462.24)"><line x1="262" x2="271"/><text class="f" transform="rotate(180)" x="-272" y="2.8">CSS0018119</text></g>
<g id="CSS0040746" transform="rotate(464.18)"><line x1="262" x2="271"/><text class="f" transform="rotate(180)" x="-272" y="2.8">CSS0040746</text></g>
<g id="CSS0002605" transform="rotate(466.12)"><line x1="262" x2="271"/><text class="f" transform="rotate(180)" x="-272" y="2.8">CSS0002605</text></g>
<g id="CSS0035725" transform="rotate(468.06)"><line x1="262" x2="271"/><text class="f" transform="rotate(180)" x="-272" y="2.8">CSS0035725</text></g>
<g id="CSS0027466" transform="rotate(470)"><line x1="262" x2="271"/><text class="f" transform="rotate(180)" x="-272" y="2.8">CSS0027466</text></g>
<g id="CSS0009327" transform="rotate(471.94)"><line x1="262" x2="271"/><text class="f" transform="rotate(180)" x="-272" y="2.8">CSS0009327</text></g>
<g id="CSS0000733" transform="rotate(473.88)"><line x1="262" x2="271"/><text class="f" transform="rotate(180)" x="-272" y="2.8">CSS0000733</text></g>
<g id="CSS0049535" transform="rotate(475.82)"><line x1="262" x2="271"/><text class="f" transform="rotate(180)" x="-272" y="2.8">CSS0049535</text></g>
<g id="CSS0043156" transform="rotate(477.76)"><line x1="262" x2="271"/><text class="f" transform="rotate(180)" x="-272" y="2.8">CSS0043156</text></g>
<g id="CSS0001911" transform="rotate(479.7)"><line x1="262" x2="271"/><text class="f" transform="rotate(180)" x="-272" y="2.8">CSS0001911</text></g>
<g id="CSS0030786" transform="rotate(481.64)"><line x1="262" x2="271"/><text class="f" transform="rotate(180)" x="-272" y="2.8">CSS0030786</text></g>
<g id="CSS0016109" transform="rotate(483.58)"><line x1="262" x2="271"/><text class="f" transform="rotate(180)" x="-272" y="2.8">CSS0016109</text></g>
<g id="CSS0007955" transform="rotate(485.52)"><line x1="262" x2="271"/><text class="f" transform="rotate(180)" x="-272" y="2.8">CSS0007955</text></g>
<g id="CSS0029247" transform="rotate(487.46)"><line x1="262" x2="271"/><text class="f" transform="rotate(180)" x="-272" y="2.8">CSS0029247</text></g>
<g id="CSS0039496" transform="rotate(489.4)"><line x1="262" x2="271"/><text class="f" transform="rotate(180)" x="-272" y="2.8">CSS0039496</text></g>
<g id="CSS0041858" transform="rotate(491.34)"><line x1="262" x2="271"/><text class="f" transform="rotate(180)" x="-272" y="2.8">CSS0041858</text></g>
<g id="CSS0036725" transform="rotate(493.28)"><line x1="262" x2="271"/><text class="f" transform="rotate(180)" x="-272" y="2.8">CSS0036725</text></g>
<g id="CSS0043971" transform="rotate(495.22)"><line x1="262" x2="271"/><text class="f" transform="rotate(180)" x="-272" y="2.8">CSS0043971</text></g>
<g id="CSS0022768" transform="rotate(497.16)"><line x1="262" x2="271"/><text class="f" transform="rotate(180)" x="-272" y="2.8">CSS0022768</text></g>
<g id="CSS0049701" transform="rotate(499.1)"><line x1="262" x2="271"/><text class="f" transform="rotate(180)" x="-272" y="2.8">CSS0049701</text></g>
<g id="CSS0021082" transform="rotate(501.04)"><line x1="262" x2="271"/><text class="f" transform="rotate(180)" x="-272" y="2.8">CSS0021082</text></g>
<g id="CSS0034513" transform="rotate(502.98)"><line x1="262" x2="271"/><text class="f" transform="rotate(180)" x="-272" y="2.8">CSS0034513</text></g>
<g id="CSS0009309" transform="rotate(504.92)"><line x1="262" x2="271"/><text class="f" transform="rotate(180)" x="-272" y="2.8">CSS0009309</text></g>
<g id="CSS0029398" transform="rotate(506.86)"><line x1="262" x2="271"/><text class="f" transform="rotate(180)" x="-272" y="2.8">CSS0029398</text></g>
<g id="CSS0024711" transform="rotate(508.8)"><line x1="262" x2="271"/><text class="f" transform="rotate(180)" x="-272" y="2.8">CSS0024711</text></g>
<g id="CSS0039270" transform="rotate(510.74)"><line x1="262" x2="271"/><text class="f" transform="rotate(180)" x="-272" y="2.8">CSS0039270</text></g>
<g id="CSS0031688" transform="rotate(512.68)"><line x1="262" x2="271"/><text class="f" transform="rotate(180)" x="-272" y="2.8">CSS0031688</text></g>
<g id="CSS0010349" transform="rotate(514.62)"><line x1="262" x2="271"/><text class="f" transform="rotate(180)" x="-272" y="2.8">CSS0010349</text></g>
<g id="CSS0009615" transform="rotate(516.56)"><line x1="262" x2="271"/><text class="f" transform="rotate(180)" x="-272" y="2.8">CSS0009615</text></g>
<g id="CSS0036008" transform="rotate(518.5)"><line x1="262" x2="271"/><text class="f" transform="rotate(180)" x="-272" y="2.8">CSS0036008</text></g>
<g id="CSS0030720" transform="rotate(520.44)"><line x1="262" x2="271"/><text class="f" transform="rotate(180)" x="-272" y="2.8">CSS0030720</text></g>
<g id="CSS0015392" transform="rotate(522.38)"><line x1="262" x2="271"/><text class="f" transform="rotate(180)" x="-272" y="2.8">CSS0015392</text></g>
<g id="CSS0037642" transform="rotate(524.32)"><line x1="262" x2="271"/><text class="f" transform="rotate(180)" x="-272" y="2.8">CSS0037642</text></g>
<g id="CSS0005103" transform="rotate(526.26)"><line x1="262" x2="271"/><text class="f" transform="rotate(180)" x="-272" y="2.8">CSS0005103</text></g>
<g id="CSS0037417" transform="rotate(528.2)"><line x1="262" x2="271"/><text class="f" transform="rotate(180)" x="-272" y="2.8">CSS0037417</text></g>
<g id="CSS0022828" transform="rotate(530.14)"><line x1="262" x2="271"/><text class="f" transform="rotate(180)" x="-272" y="2.8">CSS0022828</text></g>
<g id="CSS0049819" transform="rotate(532.08)"><line x1="262" x2="271"/><text class="f" transform="rotate(180)" x="-272" y="2.8">CSS0049819</text></g>
<g id="CSS0005931" transform="rotate(534.02)"><line x1="262" x2="271"/><text class="f" transform="rotate(180)" x="-272" y="2.8">CSS0005931</text></g>
<g id="CSS0021709" transform="rotate(535.96)"><line x1="262" x2="271"/><text class="f" transform="rotate(180)" x="-272" y="2.8">CSS0021709</text></g>
<g id="CSS0033437" transform="rotate(537.9)"><line x1="262" x2="271"/><text class="f" transform="rotate(180)" x="-272" y="2.8">CSS0033437</text></g>
<g id="CSS0024454" transform="rotate(539.84)"><line x1="262" x2="271"/><text class="f" transform="rotate(180)" x="-272" y="2.8">CSS0024454</text></g>
<g id="CSS0029901" transform="rotate(541.78)"><line x1="262" x2="271"/><text class="f" transform="rotate(180)" x="-272" y="2.8">CSS0029901</text></g>
<g id="CSS0049793" transform="rotate(543.72)"><line x1="262" x2="271"/><text class="f" transform="rotate(180)" x="-272" y="2.8">CSS0049793</text></g>
<g id="CSS0026825" transform="rotate(545.66)"><line x1="262" x2="271"/><text class="f" transform="rotate(180)" x="-272" y="2.8">CSS0026825</text></g>
<g id="CSS0030082" transform="rotate(547.6)"><line x1="262" x2="271"/><text class="f" transform="rotate(180)" x="-272" y="2.8">CSS0030082</text></g>
<g id="CSS0017764" transform="rotate(549.54)"><line x1="262" x2="271"/><text class="f" transform="rotate(180)" x="-272" y="2.8">CSS0017764</text></g>
<g id="CSS0040214" transform="rotate(551.48)"><line x1="262" x2="271"/><text class="f" transform="rotate(180)" x="-272" y="2.8">CSS0040214</text></g>
<g id="CSS0039711" transform="rotate(553.42)"><line x1="262" x2="271"/><text class="f" transform="rotate(180)" x="-272" y="2.8">CSS0039711</text></g>
<g id="CSS0030652" transform="rotate(555.36)"><line x1="262" x2="271"/><text class="f" transform="rotate(180)" x="-272" y="2.8">CSS0030652</text></g>
<g id="CSS0016950" transform="rotate(557.3)"><line x1="262" x2="271"/><text class="f" transform="rotate(180)" x="-272" y="2.8">CSS0016950</text></g>
</g>
<g id="subgroups">
<circle class="sg" pathLength="360" r="322" stroke-dasharray="8.76 400" transform="rotate(207.7)"/>
<circle class="sg" pathLength="360" r="322" stroke-dasharray="4.68 400" transform="rotate(217.9)"/>
<circle class="sg" pathLength="360" r="322" stroke-dasharray="59.76 400" transform="rotate(224.02)"/>
<circle class="sg" pathLength="360" r="322" stroke-dasharray="21 400" transform="rotate(285.22)"/>
<circle class="sg" pathLength="360" r="322" stroke-dasharray="10.8 400" transform="rotate(307.66)"/>
<circle class="sg" pathLength="360" r="322" stroke-dasharray="21 400" transform="rotate(319.9)"/>
<circle class="sg" pathLength="360" r="322" stroke-dasharray="40.88 400" transform="rotate(342.34)"/>
<circle class="sg" pathLength="360" r="322" stroke-dasharray="4.6 400" transform="rotate(384.62)"/>
<circle class="sg" pathLength="360" r="322" stroke-dasharray="4.36 400" transform="rotate(390.5)"/>
<circle class="sg" pathLength="360" r="322" stroke-dasharray="19.4 400" transform="rotate(396.14)"/>
<circle class="sg" pathLength="360" r="322" stroke-dasharray="10 400" transform="rotate(416.82)"/>
<circle class="sg" pathLength="360" r="322" stroke-dasharray="34.44 400" transform="rotate(428.1)"/>
<circle class="sg" pathLength="360" r="322" stroke-dasharray="58.8 400" transform="rotate(463.88)"/>
<circle class="sg" pathLength="360" r="322" stroke-dasharray="33.58 400" transform="rotate(524.02)"/>
<text class="sl" transform="rotate(26)" y="-331">A6</text>
<text class="sl" transform="rotate(43.8)" y="-331">A2</text>
<text class="sl" transform="rotate(61.2)" y="-331">A5</text>
<text class="sl" transform="rotate(90.5)" y="-331">A4</text>
<text class="sl" transform="rotate(-64.2)" y="342">A1</text>
<text class="sl" transform="rotate(-57.6)" y="342">B5</text>
<text class="sl" transform="rotate(-45)" y="342">B1</text>
<text class="sl" transform="rotate(-28)" y="342">B2</text>
<text class="sl" transform="rotate(-3.3)" y="342">B4</text>
<text class="sl" transform="rotate(45)" y="342">B3</text>
<text class="sl" transform="rotate(94.7)" y="342">B6</text>
</g>
<g id="families">
<circle class="fm" pathLength="360" r="350" stroke-dasharray="8.76 400" transform="rotate(207.7)"/>
<circle class="fm" pathLength="360" r="350" stroke-dasharray="4.68 400" transform="rotate(217.9)"/>
<circle class="fm" pathLength="360" r="350" stroke-dasharray="59.76 400" transform="rotate(224.02)"/>
<circle class="fm" pathLength="360" r="350" stroke-dasharray="104 400" transform="rotate(285.22)"/>
<circle class="fm" pathLength="360" r="350" stroke-dasharray="167.1 400" transform="rotate(390.5)"/>
</g>
</g>
<g id="family-labels">
<text class="fl" transform="translate(34,264) rotate(-72)" dy="6">RAV</text>
<text class="fl" transform="translate(87,97) rotate(-45)" dy="6">Soloist</text>
<text class="fl" transform="translate(265,28) rotate(-17.6)" dy="6">AP2</text>
<text class="fl" transform="translate(708,195) rotate(61)" dy="6">DREB</text>
<text class="fl" transform="translate(130,690) rotate(38)" dy="6">ERF</text>
</g>
</svg>
